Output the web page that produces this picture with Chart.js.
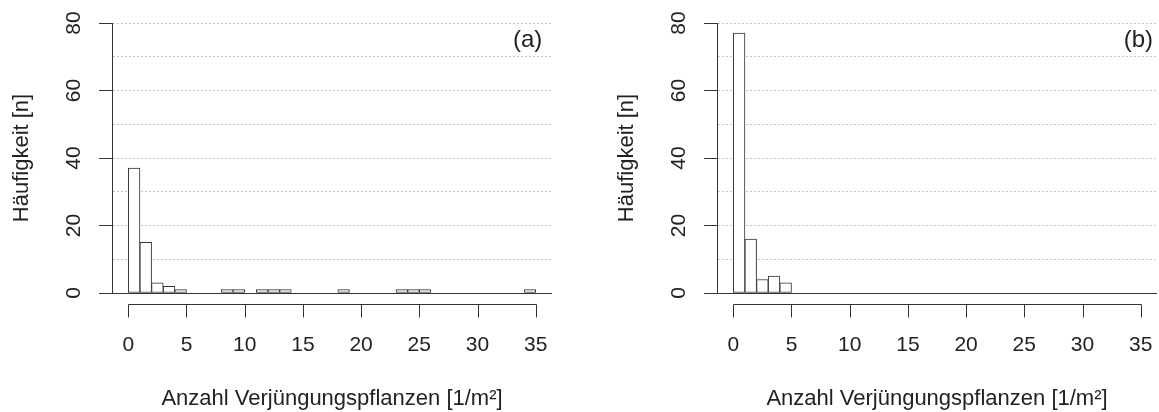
<!DOCTYPE html>
<html>
<head>
<meta charset="utf-8">
<script src="https://cdn.jsdelivr.net/npm/chart.js@4.4.1/dist/chart.umd.min.js"></script>
<style>
html,body{margin:0;padding:0;background:#fff;}
#wrap{position:relative;width:1159px;height:412px;overflow:hidden;background:#fff;}
canvas{position:absolute;top:0;}
</style>
</head>
<body>
<div id="wrap">
<canvas id="ca" width="554" height="412" style="left:0px"></canvas>
<canvas id="cb" width="554" height="412" style="left:605px"></canvas>
</div>
<script>
// ---- data ----
const binStarts = [0,1,2,3,4,5,6,7,8,9,10,11,12,13,14,15,16,17,18,19,20,21,22,23,24,25,26,27,28,29,30,31,32,33,34];
const countsA   = [37,15,3,2,1,0,0,0,1,1,0,1,1,1,0,0,0,0,1,0,0,0,0,1,1,1,0,0,0,0,0,0,0,0,1];
const countsB   = [77,16,4,5,3,0,0,0,0,0,0,0,0,0,0,0,0,0,0,0,0,0,0,0,0,0,0,0,0,0,0,0,0,0,0];
const xTickValues = [0,5,10,15,20,25,30,35];
const yGridValues = [0,10,20,30,40,50,60,70,80];
const yTickLabels = [0,20,40,60,80];
const panelLabels = ['(a)','(b)'];
const xTitle = 'Anzahl Verjüngungspflanzen [1/m²]';
const yTitle = 'Häufigkeit [n]';

// ---- style ----
const FONT = "'Liberation Sans', Arial, sans-serif";
const TEXT = '#222222';
const LINE = '#333333';
const GRID = '#c4c4c4';
Chart.defaults.font.family = FONT;
Chart.defaults.color = TEXT;

const isZero = c => !c.tick || c.tick.value === 0;

const rAxisPlugin = {
  id: 'rAxis',
  afterDraw(chart, args, opts) {
    const ctx = chart.ctx;
    const xs = chart.scales.x, ys = chart.scales.y;
    const yy = Math.round(ys.getPixelForValue(0) + opts.gap) + 0.5;
    const x0 = xs.getPixelForValue(xTickValues[0]);
    const x1 = xs.getPixelForValue(xTickValues[xTickValues.length - 1]);
    ctx.save();
    ctx.strokeStyle = LINE;
    ctx.lineWidth = 1;
    ctx.setLineDash([]);
    ctx.beginPath();
    ctx.moveTo(Math.round(x0) + 0.5, yy);
    ctx.lineTo(Math.round(x1) + 0.5, yy);
    xTickValues.forEach(v => {
      const px = Math.round(xs.getPixelForValue(v)) + 0.5;
      ctx.moveTo(px, yy);
      ctx.lineTo(px, yy + opts.tick);
    });
    ctx.stroke();
    ctx.font = '24px ' + FONT;
    ctx.fillStyle = TEXT;
    ctx.textAlign = 'center';
    ctx.textBaseline = 'middle';
    ctx.fillText(opts.label, xs.getPixelForValue(opts.labelX), ys.getPixelForValue(opts.labelY));
    ctx.restore();
  }
};

function makePanel(canvasId, counts, label, labelX) {
  const data = binStarts
    .map((b, i) => ({ x: b + 0.5, y: counts[i] }))
    .filter(d => d.y > 0);
  return new Chart(document.getElementById(canvasId), {
    type: 'bar',
    data: {
      datasets: [{
        data: data,
        backgroundColor: '#ffffff',
        borderColor: LINE,
        borderWidth: 1,
        borderSkipped: false,
        barPercentage: 1,
        categoryPercentage: 1
      }]
    },
    options: {
      responsive: false,
      animation: false,
      events: [],
      layout: { padding: { left: 0, right: 2, top: 23, bottom: 0 } },
      plugins: {
        legend: { display: false },
        tooltip: { enabled: false },
        rAxis: { gap: 11, tick: 13, label: label, labelX: labelX, labelY: 75 }
      },
      scales: {
        x: {
          type: 'linear',
          offset: false,
          min: -1.4,
          max: 36.4,
          afterBuildTicks: s => { s.ticks = xTickValues.map(v => ({ value: v })); },
          afterFit: s => { s.height = 119; s.paddingLeft = 0; s.paddingRight = 0; s.paddingTop = 0; s.paddingBottom = 0; },
          grid: { display: false, drawTicks: false, drawOnChartArea: false },
          border: { display: false },
          ticks: { font: { size: 21 }, padding: 40, maxRotation: 0, minRotation: 0, autoSkip: false, color: TEXT },
          title: { display: true, text: xTitle, font: { size: 22 }, padding: { top: 0, bottom: 0 }, color: TEXT }
        },
        y: {
          type: 'linear',
          min: 0,
          max: 80,
          afterBuildTicks: s => { s.ticks = yGridValues.map(v => ({ value: v })); },
          afterFit: s => { s.width = 112; s.paddingLeft = 0; s.paddingRight = 0; s.paddingTop = 0; s.paddingBottom = 0; },
          border: {
            display: true, color: LINE, width: 1,
            dash: c => isZero(c) ? [] : [2, 2]
          },
          grid: {
            drawOnChartArea: true,
            drawTicks: true,
            tickLength: 13,
            lineWidth: 1,
            color: c => isZero(c) ? LINE : GRID,
            tickColor: c => (c.tick && yTickLabels.includes(c.tick.value)) ? LINE : 'rgba(0,0,0,0)',
            tickBorderDash: []
          },
          ticks: {
            font: { size: 21 },
            padding: 13,
            crossAlign: 'center',
            minRotation: 90,
            maxRotation: 90,
            autoSkip: false,
            color: TEXT,
            callback: v => yTickLabels.includes(v) ? String(v) : ''
          },
          title: { display: true, text: yTitle, font: { size: 22 }, padding: { top: 9, bottom: 0 }, color: TEXT }
        }
      }
    },
    plugins: [rAxisPlugin]
  });
}

makePanel('ca', countsA, panelLabels[0], 34.3);
makePanel('cb', countsB, panelLabels[1], 34.8);
</script>
</body>
</html>
